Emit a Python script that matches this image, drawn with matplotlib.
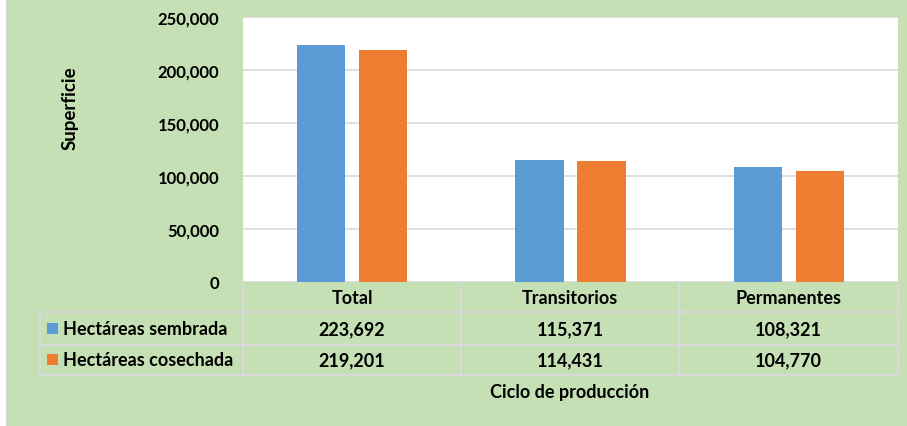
import matplotlib
matplotlib.use("Agg")
import matplotlib.pyplot as plt
import numpy as np
from matplotlib.patches import Rectangle
from matplotlib.lines import Line2D

categories = ["Total", "Transitorios", "Permanentes"]
sembrada = [223692, 115371, 108321]
cosechada = [219201, 114431, 104770]
series_names = ["Hectáreas sembrada", "Hectáreas cosechada"]
yticks = [0, 50000, 100000, 150000, 200000, 250000]

blue = "#5b9bd5"
orange = "#ed7d31"
green = "#c5e0b4"
grid = "#d9d9d9"

plt.rcParams["font.family"] = ["Lato", "DejaVu Sans"]
plt.rcParams["font.weight"] = "bold"

W, H = 907, 427
fig = plt.figure(figsize=(W / 100, H / 100), dpi=100)
fig.patch.set_facecolor(green)

# white strip on the left edge
fig.patches.append(Rectangle((0, 0), 6 / W, 1, transform=fig.transFigure,
                             facecolor="white", edgecolor="none", zorder=0))
fig.add_artist(Line2D([6 / W, 6 / W], [0, 1], color=grid, lw=1))

def fx(px):
    return px / W

def fy(py):
    return 1 - py / H

left, right, top, bottom = 243, 898, 18, 283
ax = fig.add_axes([fx(left), fy(bottom), fx(right - left), (bottom - top) / H])
ax.set_facecolor("white")

x = np.arange(len(categories))
bw = 0.22
off = 0.142
ax.bar(x - off, sembrada, bw, color=blue, zorder=3)
ax.bar(x + off, cosechada, bw, color=orange, zorder=3)

ax.set_xlim(-0.5, len(categories) - 0.5)
ax.set_ylim(0, 250000)
ax.set_yticks(yticks)
ax.set_yticklabels([f"{v:,}" for v in yticks], fontsize=12, fontweight="bold")
ax.tick_params(axis="y", length=0, pad=17)
ax.set_xticks([])
ax.yaxis.grid(True, color=grid, lw=1.2, zorder=0)
for s in ax.spines.values():
    s.set_visible(False)

fig.text(fx(70), fy(108), "Superficie", rotation=90, ha="center", va="center",
         fontsize=13.5, fontweight="bold")

# data table
col_edges = [243, 461, 679, 898]
row_edges = [283, 313, 346, 376]
tbl_left = 40
lw = 1.5
fs = 13
for cx in col_edges:
    fig.add_artist(Line2D([fx(cx)] * 2, [fy(row_edges[0]), fy(row_edges[-1])], color=grid, lw=lw))
fig.add_artist(Line2D([fx(tbl_left)] * 2, [fy(row_edges[1]), fy(row_edges[-1])], color=grid, lw=lw))
for ry in row_edges[1:]:
    fig.add_artist(Line2D([fx(tbl_left), fx(col_edges[-1])], [fy(ry)] * 2, color=grid, lw=lw))

for i, cat in enumerate(categories):
    cxm = (col_edges[i] + col_edges[i + 1]) / 2
    fig.text(fx(cxm), fy((row_edges[0] + row_edges[1]) / 2 + 1), cat, ha="center", va="center",
             fontsize=fs, fontweight="bold")
    for r, vals in enumerate([sembrada, cosechada]):
        ym = (row_edges[r + 1] + row_edges[r + 2]) / 2
        fig.text(fx(cxm), fy(ym), f"{vals[i]:,}", ha="center", va="center",
                 fontsize=fs, fontweight="bold")

for r, (name, col) in enumerate(zip(series_names, [blue, orange])):
    ym = (row_edges[r + 1] + row_edges[r + 2]) / 2
    fig.patches.append(Rectangle((fx(47), fy(ym + 5)), fx(11), 11 / H, transform=fig.transFigure,
                                 facecolor=col, edgecolor="none"))
    fig.text(fx(63), fy(ym), name, ha="left", va="center", fontsize=fs, fontweight="bold")

fig.text(fx(570), fy(393), "Ciclo de producción", ha="center", va="center",
         fontsize=fs, fontweight="bold")

fig.savefig("out.png", dpi=100, facecolor=fig.get_facecolor())
